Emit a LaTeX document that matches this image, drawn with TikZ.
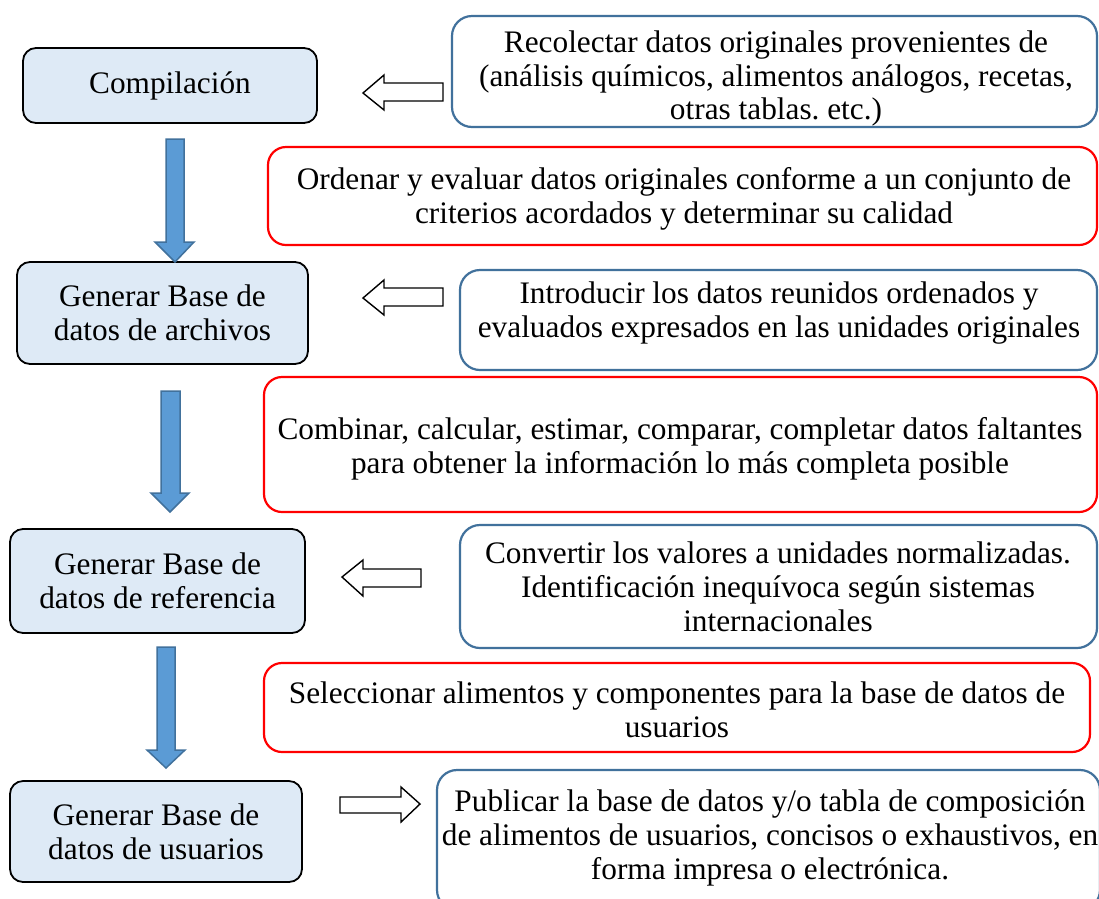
\documentclass[tikz,border=0pt]{standalone}
\usepackage{fontspec}
\setmainfont{Liberation Serif}
\frenchspacing
\definecolor{lightfill}{HTML}{DEEAF6}
\definecolor{boxblue}{HTML}{41719C}
\definecolor{arrowfill}{HTML}{5B9BD5}
\newcommand{\dfont}{\fontsize{31.3}{33.8}\selectfont}
\begin{document}
\begin{tikzpicture}[x=1pt,y=-1pt,
  stepbox/.style={draw=black, line width=1.8pt, fill=lightfill, rounded corners=13pt, align=center, font=\dfont, inner sep=0pt},
  bluebox/.style={draw=boxblue, line width=2.2pt, rounded corners=20pt, inner sep=0pt},
  redbox/.style={draw=red, line width=2.2pt, rounded corners=18pt, inner sep=0pt},
  txt/.style={align=center, font=\dfont, inner sep=0pt},
  dnarrow/.style={draw=boxblue, line width=1.5pt, fill=arrowfill, line join=miter},
  hollow/.style={draw=black, line width=1.4pt, fill=white, line join=miter}]
\useasboundingbox (0,0) rectangle (1099,898);
\clip (0,0) rectangle (1099,898);
\fill[white] (0,0) rectangle (1099,898);

% left step boxes
\node[stepbox, minimum width=294, minimum height=75] (c1) at (170,85.5) {Compilación};
\node[stepbox, minimum width=291, minimum height=102] (c2) at (162.5,313) {Generar Base de\\datos de archivos};
\node[stepbox, minimum width=295, minimum height=104] (c3) at (157.5,581) {Generar Base de\\datos de referencia};
\node[stepbox, minimum width=292, minimum height=101] (c4) at (156,831.5) {Generar Base de\\datos de usuarios};

% blue boxes
\node[bluebox, minimum width=645, minimum height=111] (b1) at (774.5,71.5) {};
\node[txt] (t1) at (776,78.5) {Recolectar datos originales provenientes de\\(análisis químicos, alimentos análogos, recetas,\\otras tablas. etc.)};
\node[bluebox, minimum width=637, minimum height=100] (b2) at (778.5,320) {};
\node[txt] (t2) at (779,313) {Introducir los datos reunidos ordenados y\\evaluados expresados en las unidades originales};
\node[bluebox, minimum width=637, minimum height=123] (b3) at (778.5,586.5) {};
\node[txt] (t3) at (778,586.5) {Convertir los valores a unidades normalizadas.\\Identificación inequívoca según sistemas\\internacionales};
\node[bluebox, minimum width=663, minimum height=140] (b4) at (768.5,840) {};
\node[txt] (t4) at (770,838) {Publicar la base de datos y/o tabla de composición\\de alimentos de usuarios, concisos o exhaustivos, en\\forma impresa o electrónica.};

% red boxes
\node[redbox, minimum width=829, minimum height=98] (r1) at (682.5,196) {};
\node[txt] (s1) at (684,199) {Ordenar y evaluar datos originales conforme a un conjunto de\\criterios acordados y determinar su calidad};
\node[redbox, minimum width=833, minimum height=135] (r2) at (680.5,444.5) {};
\node[txt] (s2) at (680,448.5) {Combinar, calcular, estimar, comparar, completar datos faltantes\\para obtener la información lo más completa posible};
\node[redbox, minimum width=826, minimum height=89] (r3) at (677,707.5) {};
\node[txt] (s3) at (677,710) {Seleccionar alimentos y componentes para la base de datos de\\usuarios};

% down block arrows
\draw[dnarrow] (166,139) -- (184,139) -- (184,242) -- (194,242) -- (175,262) -- (155,242) -- (166,242) -- cycle;
\draw[dnarrow] (161,391) -- (180,391) -- (180,493) -- (189,493) -- (170,512) -- (151,493) -- (161,493) -- cycle;
\draw[dnarrow] (157,647) -- (175,647) -- (175,750) -- (185,750) -- (166,768) -- (147,750) -- (157,750) -- cycle;

% hollow side arrows
\draw[hollow] (443,83) -- (384,83) -- (384,75) -- (363,93) -- (384,110) -- (384,101) -- (443,101) -- cycle;
\draw[hollow] (443,288) -- (384,288) -- (384,280) -- (363,298) -- (384,315) -- (384,306) -- (443,306) -- cycle;
\draw[hollow] (421,569) -- (363,569) -- (363,560) -- (342,577) -- (363,596) -- (363,587) -- (421,587) -- cycle;
\draw[hollow] (340,797) -- (401,797) -- (401,787) -- (420,804) -- (401,822) -- (401,813) -- (340,813) -- cycle;
\end{tikzpicture}
\end{document}
